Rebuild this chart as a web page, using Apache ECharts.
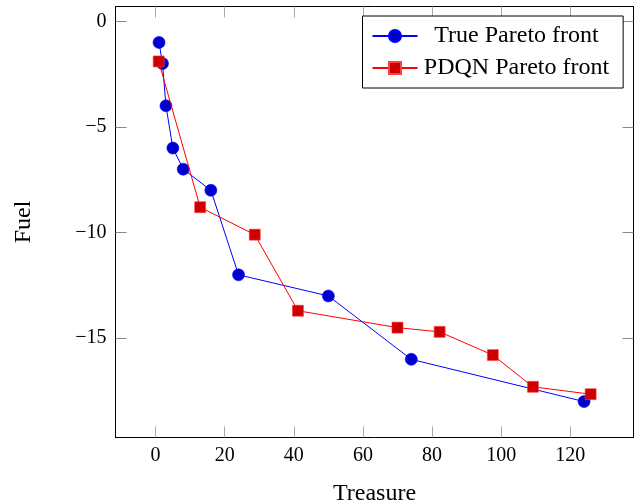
<!DOCTYPE html>
<html>
<head>
<meta charset="utf-8">
<script src="https://cdn.jsdelivr.net/npm/echarts@6/dist/echarts.min.js"></script>
<style>html,body{margin:0;padding:0;background:#fff}#c{width:639px;height:504px}</style>
</head>
<body>
<div id="c"></div>
<script>
// True Pareto front (Treasure, Fuel)
const trueTreasure = [1, 2, 3, 5, 8, 16, 24, 50, 74, 124];
const trueFuel = [-1, -2, -4, -6, -7, -8, -12, -13, -16, -18];
// PDQN Pareto front (Treasure, Fuel)
const pdqnTreasure = [0.9, 12.9, 28.7, 41.2, 70.0, 82.2, 97.6, 109.2, 125.9];
const pdqnFuel = [-1.9, -8.8, -10.1, -13.7, -14.5, -14.7, -15.8, -17.3, -17.65];
// tick labels
const xTicks = [0, 20, 40, 60, 80, 100, 120];
const yTicks = [0, -5, -10, -15];
const seriesNames = ['True Pareto front', 'PDQN Pareto front'];

const FONT = 'Liberation Serif';
const fmt = v => String(v).replace('-', '\u2212');
const pair = (xs, ys) => xs.map((x, i) => [x, ys[i]]);

const chart = echarts.init(document.getElementById('c'), null, {renderer: 'canvas'});
chart.setOption({
  animation: false,
  backgroundColor: '#ffffff',
  grid: {left: 115.5, right: 5.5, top: 6.5, bottom: 66.5, containLabel: false, outerBoundsMode: 'none'},
  xAxis: [{
    type: 'value', min: -11.6, max: 138.3, position: 'bottom',
    name: 'Treasure', nameLocation: 'middle', nameGap: 44,
    nameTextStyle: {fontFamily: FONT, fontSize: 24, color: '#000'},
    axisLine: {show: true, onZero: false, lineStyle: {color: '#000', width: 1}},
    axisTick: {show: true, inside: true, length: 11, customValues: xTicks, lineStyle: {color: '#a8a8a8', width: 1}},
    axisLabel: {customValues: xTicks, formatter: fmt, fontFamily: FONT, fontSize: 20, color: '#000', margin: 8},
    splitLine: {show: false}
  }, {
    type: 'value', min: -11.6, max: 138.3, position: 'top',
    axisLine: {show: true, onZero: false, lineStyle: {color: '#000', width: 1}},
    axisTick: {show: true, inside: true, length: 11, customValues: xTicks, lineStyle: {color: '#a8a8a8', width: 1}},
    axisLabel: {show: false},
    splitLine: {show: false}
  }],
  yAxis: [{
    type: 'value', min: -19.7, max: 0.7, position: 'left',
    name: 'Fuel', nameLocation: 'middle', nameGap: 80,
    nameTextStyle: {fontFamily: FONT, fontSize: 24, color: '#000'},
    axisLine: {show: true, onZero: false, lineStyle: {color: '#000', width: 1}},
    axisTick: {show: true, inside: true, length: 11, customValues: yTicks, lineStyle: {color: '#8a8a8a', width: 1}},
    axisLabel: {customValues: yTicks, formatter: fmt, fontFamily: FONT, fontSize: 20, color: '#000', margin: 9},
    splitLine: {show: false}
  }, {
    type: 'value', min: -19.7, max: 0.7, position: 'right',
    axisLine: {show: true, onZero: false, lineStyle: {color: '#000', width: 1}},
    axisTick: {show: true, inside: true, length: 11, customValues: yTicks, lineStyle: {color: '#8a8a8a', width: 1}},
    axisLabel: {show: false},
    splitLine: {show: false}
  }],
  legend: {
    show: true, orient: 'vertical', left: 362.5, top: 16,
    padding: [8, 14, 8, 9], itemGap: 8, itemWidth: 45, itemHeight: 15,
    backgroundColor: '#fff', borderColor: '#000', borderWidth: 1, borderRadius: 0,
    formatter: name => '{t|' + name + '}',
    textStyle: {fontFamily: FONT, fontSize: 24, color: '#000',
      rich: {t: {fontFamily: FONT, fontSize: 24, color: '#000', width: 188, align: 'center'}}},
    data: seriesNames
  },
  series: [{
    name: seriesNames[0], type: 'line', data: pair(trueTreasure, trueFuel),
    symbol: 'circle', symbolSize: 12,
    lineStyle: {color: '#0000ff', width: 1},
    itemStyle: {color: '#0000cc', borderColor: '#0000ff', borderWidth: 0.6},
    z: 2
  }, {
    name: seriesNames[1], type: 'line', data: pair(pdqnTreasure, pdqnFuel),
    symbol: 'rect', symbolSize: 11,
    lineStyle: {color: '#ff0000', width: 1},
    itemStyle: {color: '#cc0000', borderColor: '#ff4040', borderWidth: 0.6},
    z: 3
  }]
});
</script>
</body>
</html>
